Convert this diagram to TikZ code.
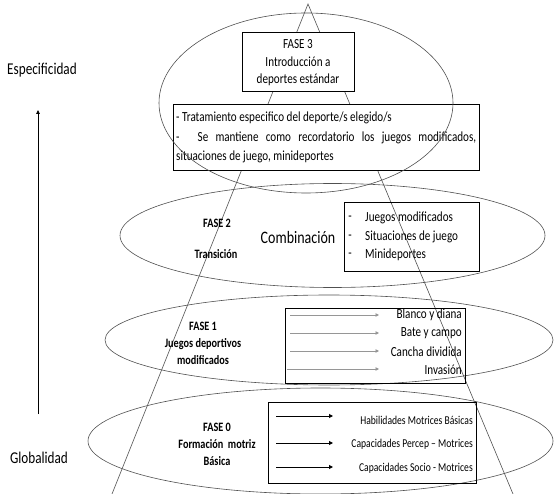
\documentclass[tikz,border=0pt]{standalone}
\usepackage{fontspec}
\setmainfont{Carlito}[FakeStretch=0.8]
\usetikzlibrary{arrows.meta,shapes.geometric}
\definecolor{linegray}{HTML}{505050}
\definecolor{arrowgray}{HTML}{969696}

\begin{document}
\begin{tikzpicture}[x=1pt,y=-1pt,
  phase/.style={draw=linegray, line width=0.6pt, ellipse, inner sep=0pt},
  tri/.style={draw=linegray, line width=0.6pt},
  boxed/.style={draw=black, line width=0.7pt, inner sep=0pt, rectangle},
  txt/.style={inner sep=0pt, font=\fontsize{13.9}{17.5}\selectfont},
  small/.style={inner sep=0pt, font=\fontsize{12}{14}\selectfont},
  lbl/.style={inner sep=0pt, font=\fontsize{12.8}{17}\selectfont\bfseries, align=center},
  side/.style={inner sep=0pt, font=\fontsize{16.5}{18}\selectfont},
  grayarrow/.style={draw=arrowgray, line width=1pt, -{Triangle[length=3.5pt,width=3.5pt]}},
  blackarrow/.style={draw=black, line width=1pt, -{Triangle[length=4pt,width=4pt]}}
]
\useasboundingbox (0,0) rectangle (554,494);

% lower phases
\node[phase, minimum width=425pt, minimum height=104pt] (e2) at (332.5,235.5) {};
\node[phase, minimum width=448pt, minimum height=90pt] (e1) at (329,340) {};
\node[phase, minimum width=465pt, minimum height=106pt] (e0) at (320.5,441) {};

% pyramid
\coordinate (apex) at (308,4);
\coordinate (bl) at (112,494);
\coordinate (br) at (513,494);
\draw[tri] (bl) -- (apex) -- (br);

% phase 3 boxes (opaque, hide the pyramid edges)
\node[boxed, fill=white, minimum width=112pt, minimum height=59pt] (f3box) at (298,61.5) {};
\node[txt, align=center] (f3txt) at (298,63) {FASE 3\\Introducción a\\deportes estándar};
\node[boxed, fill=white, minimum width=306pt, minimum height=66pt] (specbox) at (326,137) {};
\node[txt, anchor=north west, text width=300pt, align=justify,
      font=\fontsize{13.9}{19.5}\selectfont] (spectxt) at (176,112)
  {- Tratamiento especifico del deporte/s elegido/s\par
   -\hspace{1.3em}Se mantiene como recordatorio los juegos modificados,\linebreak
   situaciones de juego, minideportes};

% top phase drawn over the boxes
\node[phase, minimum width=294pt, minimum height=180pt] (e3) at (306,103) {};

% phase 2
\node[lbl] (f2a) at (217,223) {FASE 2};
\node[lbl] (f2b) at (216,254) {Transición};
\node[inner sep=0pt, font=\fontsize{17.5}{19}\selectfont] (comb) at (298,237) {Combinación};
\node[boxed, minimum width=135pt, minimum height=69pt] (f2box) at (411.5,236.5) {};
\node[txt] (d1) at (350,218) {-};
\node[txt] (d2) at (350,237) {-};
\node[txt] (d3) at (350,255) {-};
\node[txt, anchor=west] (i1) at (365,218) {Juegos modificados};
\node[txt, anchor=west] (i2) at (365,237) {Situaciones de juego};
\node[txt, anchor=west] (i3) at (365,255) {Minideportes};

% phase 1
\node[lbl] (f1) at (203,343) {FASE 1\\Juegos deportivos\\modificados};
\node[boxed, minimum width=180pt, minimum height=75pt] (f1box) at (375,345.5) {};
\node[txt, anchor=east] (g1) at (462,315) {Blanco y diana};
\node[txt, anchor=east] (g2) at (462,333) {Bate y campo};
\node[txt, anchor=east] (g3) at (462,352) {Cancha dividida};
\node[txt, anchor=east] (g4) at (462,370) {Invasión};
\coordinate (a1s) at (290,315); \coordinate (a1e) at (379,315);
\coordinate (a2s) at (290,333); \coordinate (a2e) at (379,333);
\coordinate (a3s) at (290,351); \coordinate (a3e) at (379,351);
\coordinate (a4s) at (287,369); \coordinate (a4e) at (379,369);
\draw[grayarrow] (a1s) -- (a1e);
\draw[grayarrow] (a2s) -- (a2e);
\draw[grayarrow] (a3s) -- (a3e);
\draw[grayarrow] (a4s) -- (a4e);

% phase 0
\node[lbl] (f0) at (217,444) {FASE 0\\Formación\ \ motriz\\Básica};
\node[boxed, minimum width=208pt, minimum height=81pt] (f0box) at (372,442.5) {};
\node[small, anchor=east] (h1) at (473,420) {Habilidades Motrices Básicas};
\node[small, anchor=east] (h2) at (473,444) {Capacidades Percep – Motrices};
\node[small, anchor=east] (h3) at (473,468) {Capacidades Socio - Motrices};
\coordinate (b1s) at (276,416); \coordinate (b1e) at (333,416);
\coordinate (b2s) at (276,443); \coordinate (b2e) at (333,443);
\coordinate (b3s) at (276,467); \coordinate (b3e) at (333,467);
\draw[blackarrow] (b1s) -- (b1e);
\draw[blackarrow] (b2s) -- (b2e);
\draw[blackarrow] (b3s) -- (b3e);

% axis of progression
\node[side] (spec) at (42,70) {Especificidad};
\node[side] (glob) at (39,458) {Globalidad};
\coordinate (axlow) at (38,414);
\coordinate (axhigh) at (38,110);
\draw[black, line width=0.8pt, -{Triangle[length=4pt,width=3.5pt]}] (axlow) -- (axhigh);
\end{tikzpicture}
\end{document}
